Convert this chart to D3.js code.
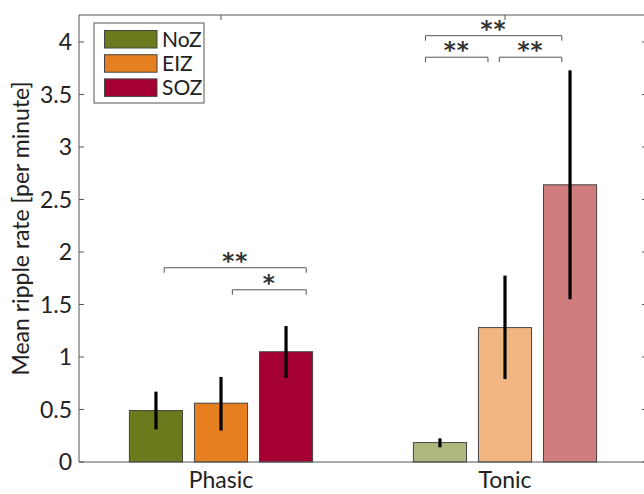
<!DOCTYPE html>
<html>
<head>
<meta charset="utf-8">
<script src="https://cdn.jsdelivr.net/npm/d3@7"></script>
<style>
  body { margin: 0; background: #fff; }
  text { font-family: Lato, "Open Sans", sans-serif; fill: #222; }
</style>
</head>
<body>
<svg id="chart" width="644" height="494"></svg>
<script>
"use strict";

// data
const categories = ["Phasic", "Tonic"];
const zones = ["NoZ", "EIZ", "SOZ"];
const means = [[0.49, 0.56, 1.05], [0.185, 1.28, 2.64]];
const errLow = [[0.31, 0.30, 0.80], [0.14, 0.79, 1.55]];
const errHigh = [[0.67, 0.81, 1.295], [0.225, 1.775, 3.73]];
const colors = [["#6a7a1d", "#e57f20", "#a50034"], ["#adb87f", "#f2b682", "#d07d7e"]];
const yTicks = [0, 0.5, 1, 1.5, 2, 2.5, 3, 3.5, 4];
// significance brackets: x0, x1 in category units, level, label
const sigs = [
  { x0: 0.80, x1: 1.30, y: 1.85, label: "**" },
  { x0: 1.04, x1: 1.30, y: 1.64, label: "*" },
  { x0: 1.72, x1: 2.20, y: 4.06, label: "**" },
  { x0: 1.72, x1: 1.94, y: 3.855, label: "**" },
  { x0: 1.98, x1: 2.20, y: 3.855, label: "**" }
];

const svg = d3.select("#chart");
const margin = { left: 79, top: 15, right: 647, bottom: 462 };

const x = d3.scaleLinear().domain([0.5, 2.5]).range([margin.left, margin.right]);
const y = d3.scaleLinear().domain([0, 4.257]).range([margin.bottom, margin.top]);

const offset = 0.229, barW = 0.187;
const axisColor = "#555";

// bars
categories.forEach((c, ci) => {
  zones.forEach((z, zi) => {
    const cx = ci + 1 + (zi - 1) * offset;
    svg.append("rect")
      .attr("x", x(cx - barW / 2))
      .attr("y", y(means[ci][zi]))
      .attr("width", x(cx + barW / 2) - x(cx - barW / 2))
      .attr("height", y(0) - y(means[ci][zi]))
      .attr("fill", colors[ci][zi])
      .attr("stroke", "#444")
      .attr("stroke-width", 1);
    svg.append("line")
      .attr("x1", x(cx)).attr("x2", x(cx))
      .attr("y1", y(errLow[ci][zi])).attr("y2", y(errHigh[ci][zi]))
      .attr("stroke", "#000")
      .attr("stroke-width", 3.2);
  });
});

// axes box
svg.append("line").attr("x1", margin.left).attr("x2", margin.right)
  .attr("y1", y(0)).attr("y2", y(0)).attr("stroke", axisColor);
svg.append("line").attr("x1", margin.left).attr("x2", margin.right)
  .attr("y1", margin.top).attr("y2", margin.top).attr("stroke", axisColor);
svg.append("line").attr("x1", margin.left).attr("x2", margin.left)
  .attr("y1", margin.top).attr("y2", margin.bottom).attr("stroke", axisColor);
svg.append("line").attr("x1", margin.right).attr("x2", margin.right)
  .attr("y1", margin.top).attr("y2", margin.bottom).attr("stroke", axisColor);

// y ticks, both sides
yTicks.forEach(t => {
  svg.append("line").attr("x1", margin.left).attr("x2", margin.left + 5)
    .attr("y1", y(t)).attr("y2", y(t)).attr("stroke", axisColor);
  svg.append("line").attr("x1", margin.right - 5).attr("x2", margin.right)
    .attr("y1", y(t)).attr("y2", y(t)).attr("stroke", axisColor);
  svg.append("text")
    .attr("x", margin.left - 7)
    .attr("y", y(t))
    .attr("dy", "0.36em")
    .attr("text-anchor", "end")
    .style("font-size", "23px")
    .text(d3.format("")(t));
});

// x ticks, top and bottom
categories.forEach((c, ci) => {
  svg.append("line").attr("x1", x(ci + 1)).attr("x2", x(ci + 1))
    .attr("y1", margin.top).attr("y2", margin.top + 5).attr("stroke", axisColor);
  svg.append("text")
    .attr("x", x(ci + 1))
    .attr("y", 488)
    .attr("text-anchor", "middle")
    .style("font-size", "23px")
    .text(c);
});

// y title
svg.append("text")
  .attr("transform", "translate(29," + ((margin.top + margin.bottom) / 2 - 10) + ") rotate(-90)")
  .attr("text-anchor", "middle")
  .style("font-size", "23px")
  .text("Mean ripple rate [per minute]");

// significance brackets
sigs.forEach(s => {
  const yy = y(s.y);
  svg.append("path")
    .attr("d", "M" + x(s.x0) + "," + (yy + 5) + "V" + yy + "H" + x(s.x1) + "V" + (yy + 5))
    .attr("fill", "none")
    .attr("stroke", "#555")
    .attr("stroke-width", 1);
  svg.append("text")
    .attr("x", (x(s.x0) + x(s.x1)) / 2)
    .attr("y", yy + 1)
    .attr("text-anchor", "middle")
    .style("font-size", "23px")
    .style("font-family", "DejaVu Sans")
    .style("font-weight", "bold")
    .style("fill", "#333")
    .style("letter-spacing", "1px")
    .text(s.label);
});

// legend
const lg = svg.append("g").attr("transform", "translate(94,23)");
lg.append("rect").attr("width", 110).attr("height", 80)
  .attr("fill", "#fff").attr("stroke", "#555");
zones.forEach((z, zi) => {
  lg.append("rect")
    .attr("x", 10.5).attr("y", 7.5 + zi * 24.2)
    .attr("width", 52.5).attr("height", 17.5)
    .attr("fill", colors[0][zi])
    .attr("stroke", "#444");
  lg.append("text")
    .attr("x", 68).attr("y", 16.5 + zi * 24.2)
    .attr("dy", "0.36em")
    .style("font-size", "21px")
    .text(z);
});
</script>
</body>
</html>
